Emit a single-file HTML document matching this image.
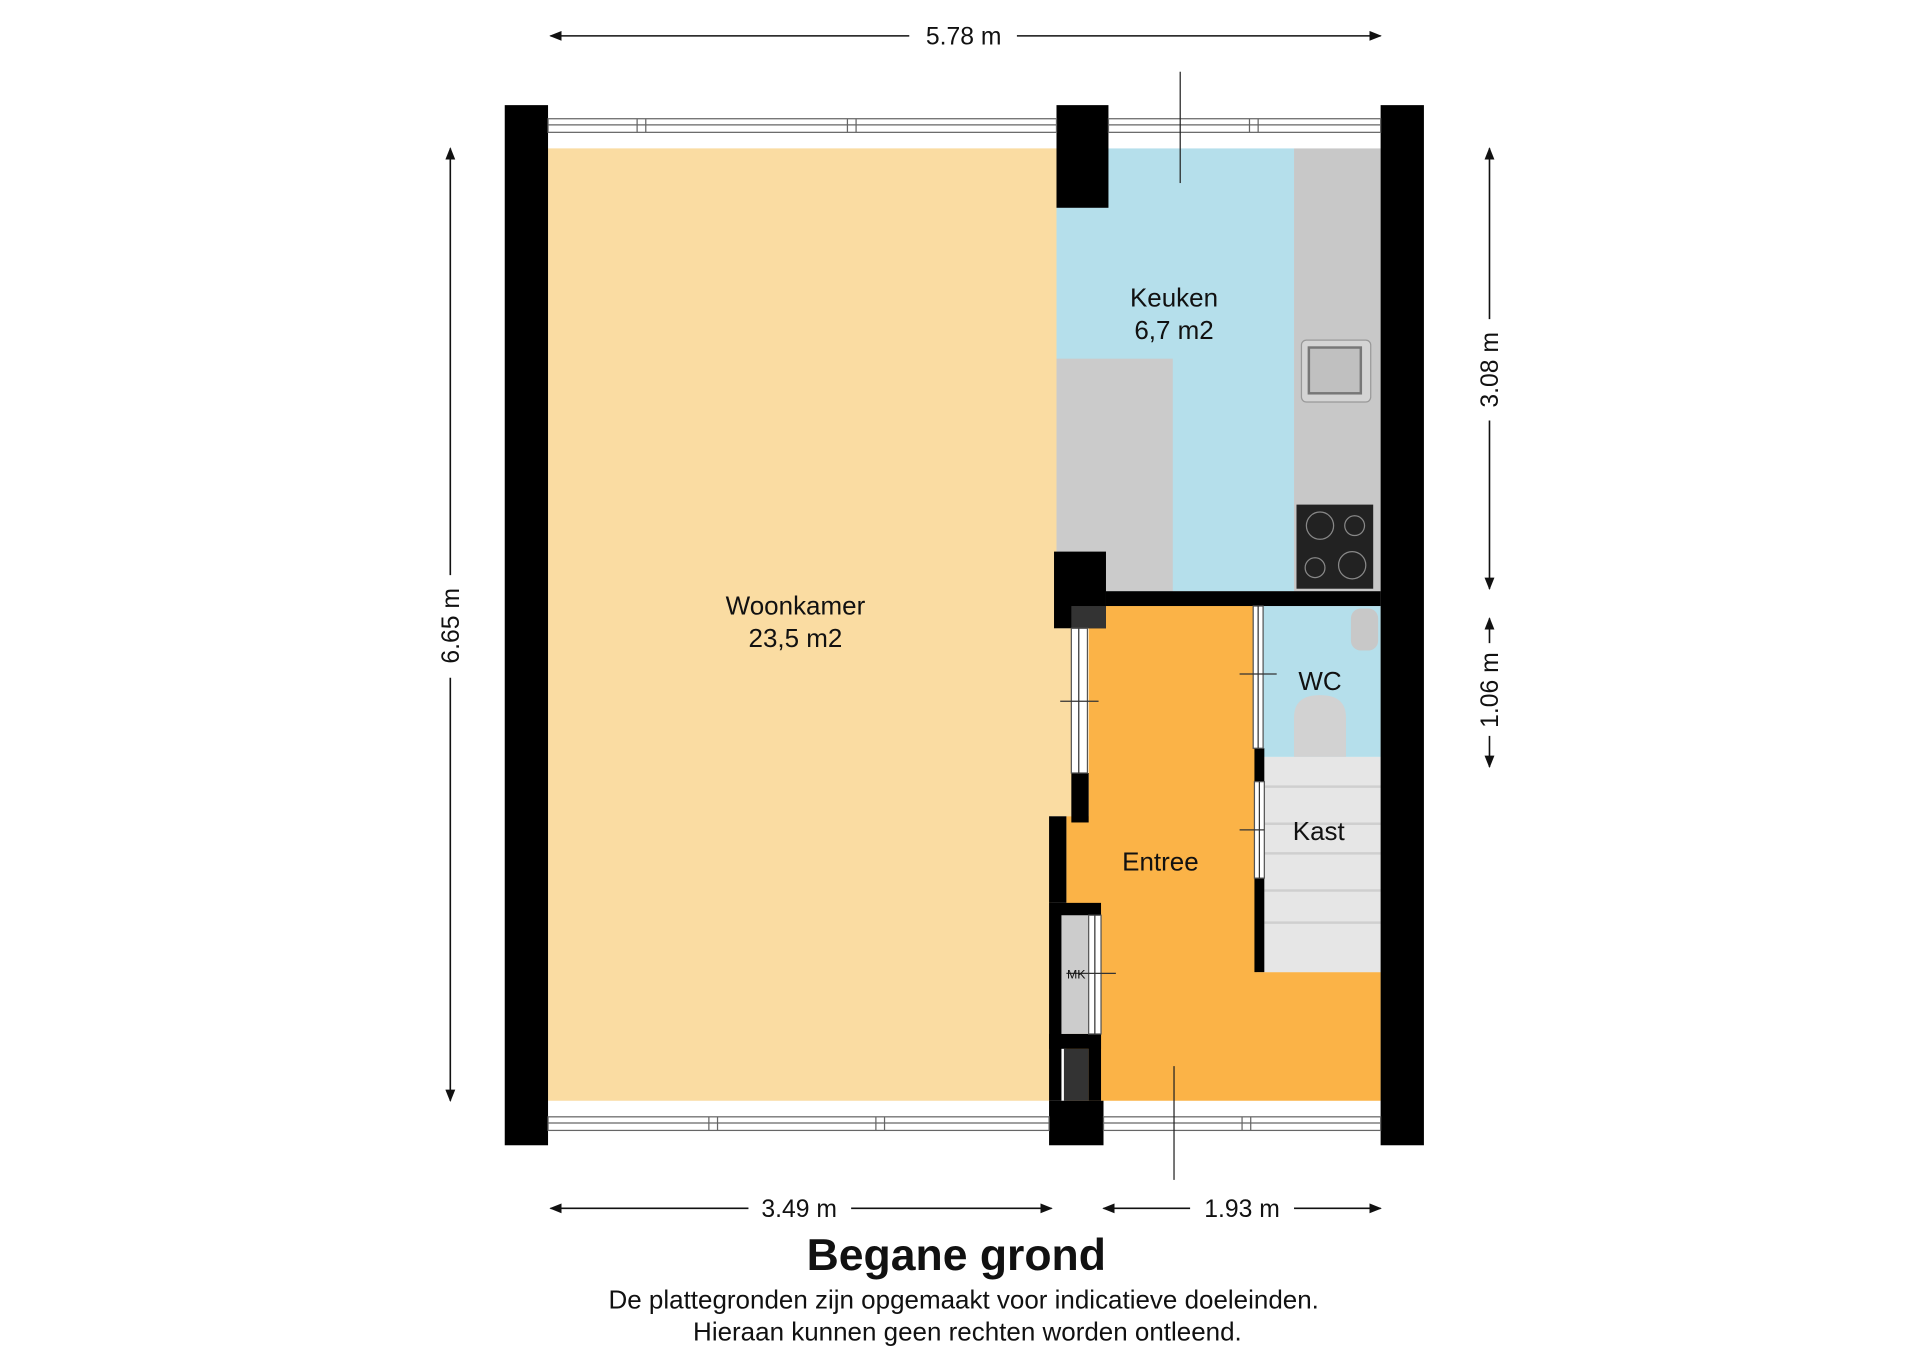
<!DOCTYPE html>
<html><head><meta charset="utf-8"><style>
html,body{margin:0;padding:0;background:#fff}
svg{display:block}
text{font-family:"Liberation Sans",Arial,sans-serif;fill:#111}
</style></head><body>
<svg width="1920" height="1358" viewBox="0 0 1552 1098" preserveAspectRatio="none" xmlns="http://www.w3.org/2000/svg">
<defs>
<marker id="ah" markerWidth="10" markerHeight="8" refX="9" refY="4" orient="auto" markerUnits="userSpaceOnUse"><path d="M0,0 L10,4 L0,8 z" fill="#111"/></marker>
</defs>
<rect width="1552" height="1098" fill="#fff"/>
<!-- rooms -->
<path d="M443 120 H854 V508 H868 V660 H850 V890 H443 Z" fill="#fadca2"/>
<rect x="854" y="120" width="192" height="358" fill="#b5dfeb"/>
<rect x="1046" y="120" width="70" height="358" fill="#c8c8c8"/>
<rect x="854" y="290" width="94" height="188" fill="#cbcbcb"/>
<!-- sink -->
<rect x="1052" y="275" width="56" height="50" rx="4" fill="#d4d4d4" stroke="#999"/>
<rect x="1058" y="281" width="42" height="37" fill="#c0c0c0" stroke="#777" stroke-width="2"/>
<!-- hob -->
<rect x="1048" y="408" width="62" height="68" fill="#222"/>
<circle cx="1067" cy="425" r="11" fill="none" stroke="#888"/>
<circle cx="1095" cy="425" r="8" fill="none" stroke="#888"/>
<circle cx="1063" cy="459" r="8" fill="none" stroke="#888"/>
<circle cx="1093" cy="457" r="11" fill="none" stroke="#888"/>
<!-- entree -->
<path d="M880 490 H1016 V786 H1116 V890 H862 V660 H880 Z" fill="#fbb347"/>
<!-- wc -->
<rect x="1020" y="490" width="96" height="122" fill="#b5dfeb"/>
<rect x="1092" y="492" width="22" height="34" rx="8" fill="#c8c8c8"/>
<path d="M1046 612 V580 Q1046 562 1067 562 Q1088 562 1088 580 V612 Z" fill="#d2d2d2"/>
<!-- kast stairs -->
<rect x="1022" y="612" width="94" height="174" fill="#e6e6e6"/>
<g stroke="#cfcfcf" stroke-width="2"><line x1="1022" y1="636" x2="1116" y2="636"/><line x1="1022" y1="666" x2="1116" y2="666"/><line x1="1022" y1="690" x2="1116" y2="690"/><line x1="1022" y1="720" x2="1116" y2="720"/><line x1="1022" y1="746" x2="1116" y2="746"/></g>
<!-- MK cupboard -->
<rect x="858" y="736" width="32" height="100" fill="#ccc"/>
<rect x="860" y="848" width="20" height="42" fill="#333"/>
<!-- walls -->
<g fill="#000">
<rect x="408" y="85" width="35" height="841"/>
<rect x="1116" y="85" width="35" height="841"/>
<rect x="854" y="85" width="42" height="83"/>
<rect x="852" y="446" width="42" height="62"/>
<rect x="894" y="478" width="222" height="12"/>
<rect x="866" y="625" width="14" height="40"/>
<rect x="848" y="660" width="14" height="70"/>
<path d="M848 730 H890 V740 H858 V890 H848 Z"/>
<rect x="848" y="836" width="42" height="12"/>
<rect x="880" y="836" width="10" height="54"/>
<rect x="848" y="890" width="44" height="36"/>
<rect x="1014" y="605" width="8" height="27"/>
<rect x="1014" y="710" width="8" height="76"/>
</g>
<rect x="866" y="490" width="28" height="18" fill="#333"/>
<!-- door strips -->
<g fill="#fff" stroke="#555" stroke-width="1">
<rect x="866" y="508" width="13" height="117"/>
<rect x="1013" y="490" width="8" height="115"/>
<rect x="1014" y="632" width="8" height="78"/>
<rect x="880" y="740" width="10" height="96"/>
</g>
<g stroke="#333" stroke-width="1">
<line x1="872" y1="508" x2="872" y2="625"/><line x1="1017" y1="490" x2="1017" y2="605"/><line x1="1018" y1="632" x2="1018" y2="710"/><line x1="885" y1="740" x2="885" y2="836"/>
<line x1="857" y1="567" x2="888" y2="567"/><line x1="1002" y1="545" x2="1032" y2="545"/><line x1="1002" y1="671" x2="1022" y2="671"/><line x1="862" y1="787" x2="902" y2="787"/>
</g>
<!-- windows -->
<g fill="#fff" stroke="#666" stroke-width="1">
<rect x="443" y="96" width="411" height="11"/><rect x="896" y="96" width="220" height="11"/>
<rect x="443" y="903" width="405" height="11"/><rect x="892" y="903" width="224" height="11"/>
</g>
<g stroke="#666" stroke-width="1">
<line x1="443" y1="101" x2="854" y2="101"/><line x1="896" y1="101" x2="1116" y2="101"/>
<line x1="443" y1="908" x2="848" y2="908"/><line x1="892" y1="908" x2="1116" y2="908"/>
<line x1="515" y1="96" x2="515" y2="107"/><line x1="522" y1="96" x2="522" y2="107"/><line x1="685" y1="96" x2="685" y2="107"/><line x1="692" y1="96" x2="692" y2="107"/><line x1="1010" y1="96" x2="1010" y2="107"/><line x1="1017" y1="96" x2="1017" y2="107"/>
<line x1="573" y1="903" x2="573" y2="914"/><line x1="580" y1="903" x2="580" y2="914"/><line x1="708" y1="903" x2="708" y2="914"/><line x1="715" y1="903" x2="715" y2="914"/><line x1="1004" y1="903" x2="1004" y2="914"/><line x1="1011" y1="903" x2="1011" y2="914"/>
</g>
<!-- ref lines -->
<line x1="954" y1="58" x2="954" y2="148" stroke="#222"/>
<line x1="949" y1="862" x2="949" y2="954" stroke="#222"/>
<!-- labels -->
<g font-size="21" text-anchor="middle">
<text x="643" y="497">Woonkamer</text><text x="643" y="523">23,5 m2</text>
<text x="949" y="248">Keuken</text><text x="949" y="274">6,7 m2</text>
<text x="1067" y="558">WC</text><text x="1066" y="679">Kast</text>
<text x="938" y="704">Entree</text>
</g>
<text x="870" y="791" font-size="10" text-anchor="middle">MK</text>
<!-- dimensions -->
<g stroke="#111" stroke-width="1.3" fill="none">
<line x1="735" y1="29" x2="445" y2="29" marker-end="url(#ah)"/><line x1="822" y1="29" x2="1116" y2="29" marker-end="url(#ah)"/>
<line x1="605" y1="977" x2="445" y2="977" marker-end="url(#ah)"/><line x1="688" y1="977" x2="850" y2="977" marker-end="url(#ah)"/>
<line x1="962" y1="977" x2="892" y2="977" marker-end="url(#ah)"/><line x1="1046" y1="977" x2="1116" y2="977" marker-end="url(#ah)"/>
<line x1="364" y1="465" x2="364" y2="120" marker-end="url(#ah)"/><line x1="364" y1="548" x2="364" y2="890" marker-end="url(#ah)"/>
<line x1="1204" y1="258" x2="1204" y2="120" marker-end="url(#ah)"/><line x1="1204" y1="340" x2="1204" y2="476" marker-end="url(#ah)"/>
<line x1="1204" y1="520" x2="1204" y2="500" marker-end="url(#ah)"/><line x1="1204" y1="595" x2="1204" y2="620" marker-end="url(#ah)"/>
</g>
<g font-size="20" text-anchor="middle">
<text x="779" y="36">5.78 m</text>
<text x="646" y="984">3.49 m</text>
<text x="1004" y="984">1.93 m</text>
<text transform="translate(371,506) rotate(-90)">6.65 m</text>
<text transform="translate(1211,299) rotate(-90)">3.08 m</text>
<text transform="translate(1211,558) rotate(-90)">1.06 m</text>
</g>
<text x="773" y="1027" font-size="36" font-weight="bold" text-anchor="middle">Begane grond</text>
<text x="779" y="1058" font-size="21" text-anchor="middle">De plattegronden zijn opgemaakt voor indicatieve doeleinden.</text>
<text x="782" y="1084" font-size="21" text-anchor="middle">Hieraan kunnen geen rechten worden ontleend.</text>
</svg>
</body></html>
